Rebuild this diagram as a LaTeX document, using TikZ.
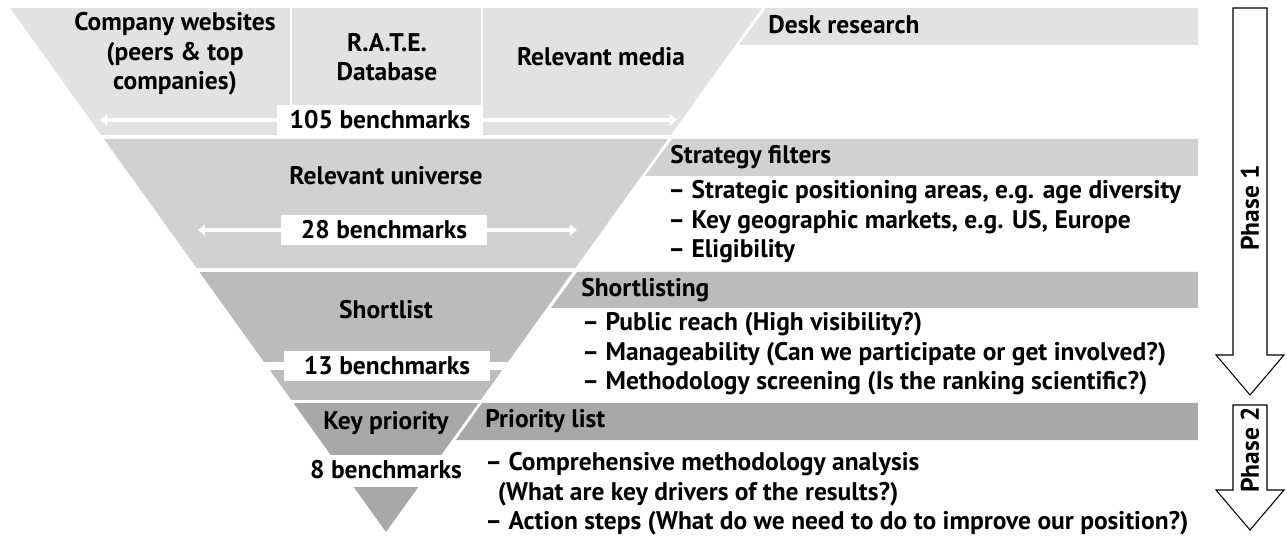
\documentclass[tikz,border=0pt]{standalone}
\usepackage{fontspec}
\setmainfont{PT Sans}
\usepackage{tikz}
\usetikzlibrary{arrows.meta,positioning}
\definecolor{tierA}{HTML}{E2E2E2}
\definecolor{tierB}{HTML}{D1D1D1}
\definecolor{tierC}{HTML}{BBBBBB}
\definecolor{tierD}{HTML}{A8A8A8}
\tikzset{
  label/.style={font=\bfseries\fontsize{14.5}{16.8}\selectfont, align=center, inner sep=0pt},
  countbox/.style={
    rectangle, fill=white, minimum width=4.12cm, minimum height=0.6cm,
    inner sep=0pt, font=\bfseries\fontsize{14.5}{16.8}\selectfont
  },
  barlabel/.style={anchor=west, inner sep=0pt, font=\bfseries\fontsize{14.5}{16.8}\selectfont},
  itemlist/.style={anchor=west, align=left, inner sep=0pt, font=\bfseries\fontsize{14.5}{16.8}\selectfont},
  spread/.style={{Triangle[length=4pt,width=6pt]}-{Triangle[length=4pt,width=6pt]}, white, line width=2.2pt},
  divider/.style={white, line width=1.6pt},
  phasearrow/.style={draw=black, fill=white, line width=0.6pt, line join=miter},
  phaselabel/.style={rotate=90, inner sep=0pt, font=\bfseries\fontsize{14.5}{16.8}\selectfont},
}
\begin{document}
\begin{tikzpicture}[x=0.02cm, y=-0.02cm]
  \useasboundingbox (0,0) rectangle (1287,536);

  % Funnel tiers, cut to the triangle
  \begin{scope}
    \clip (10,8) -- (762,8) -- (386,532) -- cycle;
    \fill[tierA] (0,8) rectangle (800,135);
    \fill[tierB] (0,139) rectangle (800,268);
    \fill[tierC] (0,272) rectangle (800,400);
    \fill[tierD] (0,403) rectangle (800,455);
    \fill[tierD] (0,487) rectangle (800,532);
    \draw[white, line width=4.5pt] (0,366) -- (800,366);
  \end{scope}

  % Bars to the right of the funnel
  \fill[tierA] (766,8) -- (1198,8) -- (1198,45) -- (739,45) -- cycle;
  \fill[tierB] (672,139) -- (1198,139) -- (1198,176) -- (645,176) -- cycle;
  \fill[tierC] (577,272) -- (1198,272) -- (1198,308) -- (551,308) -- cycle;
  \fill[tierD] (482,403) -- (1198,403) -- (1198,440) -- (456,440) -- cycle;

  % Sources in the top tier
  \draw[divider] (291,8) -- (291,110);
  \draw[divider] (482,8) -- (482,110);
  \node[label] (web) at (175,54) {Company websites\\(peers \& top\\companies)};
  \node[label] (rate) at (387,57) {R.A.T.E.\\Database};
  \node[label] (media) at (601,57) {Relevant media};

  % Spread arrows and counts
  \coordinate (spreadAw) at (100,120);
  \coordinate (spreadAe) at (677,120);
  \coordinate (spreadBw) at (198,230);
  \coordinate (spreadBe) at (577,230);
  \draw[spread] (spreadAw) -- (spreadAe);
  \draw[spread] (spreadBw) -- (spreadBe);
  \node[countbox] (countA) at (380,120) {105 benchmarks};
  \node[countbox] (countB) at (384,230) {28 benchmarks};
  \node[countbox] (countC) at (387,366) {13 benchmarks};

  % Tier names
  \node[label] (universe) at (386,176) {Relevant universe};
  \node[label] (short) at (386,310) {Shortlist};
  \node[label] (keyprio) at (386,423) {Key priority};
  \node[label] (countD) at (386,470) {8 benchmarks};

  % Filter steps
  \node[barlabel] (desk) at (768,25) {Desk research};
  \node[barlabel] (strat) at (670,157) {Strategy filters};
  \node[itemlist] (stratlist) at (668,222)
    {-- Strategic positioning areas, e.g. age diversity\\
     -- Key geographic markets, e.g. US, Europe\\
     -- Eligibility};
  \node[barlabel] (shortl) at (581,290) {Shortlisting};
  \node[itemlist] (shortlist) at (582,354)
    {-- Public reach (High visibility?)\\
     -- Manageability (Can we participate or get involved?)\\
     -- Methodology screening (Is the ranking scientific?)};
  \node[barlabel] (prio) at (485,421) {Priority list};
  \node[itemlist] (priolist) at (485,494)
    {-- Comprehensive methodology analysis\\
     \hspace*{0.25cm}(What are key drivers of the results?)\\
     -- Action steps (What do we need to do to improve our position?)};

  % Phases
  \draw[phasearrow] (1233,8) -- (1267,8) -- (1267,355) -- (1284,355) -- (1250,395)
    -- (1216,355) -- (1233,355) -- cycle;
  \draw[phasearrow] (1233,405) -- (1267,405) -- (1267,490) -- (1284,490) -- (1250,530)
    -- (1216,490) -- (1233,490) -- cycle;
  \node[phaselabel] (phaseA) at (1250,208) {Phase 1};
  \node[phaselabel] (phaseB) at (1250,450) {Phase 2};
\end{tikzpicture}
\end{document}
